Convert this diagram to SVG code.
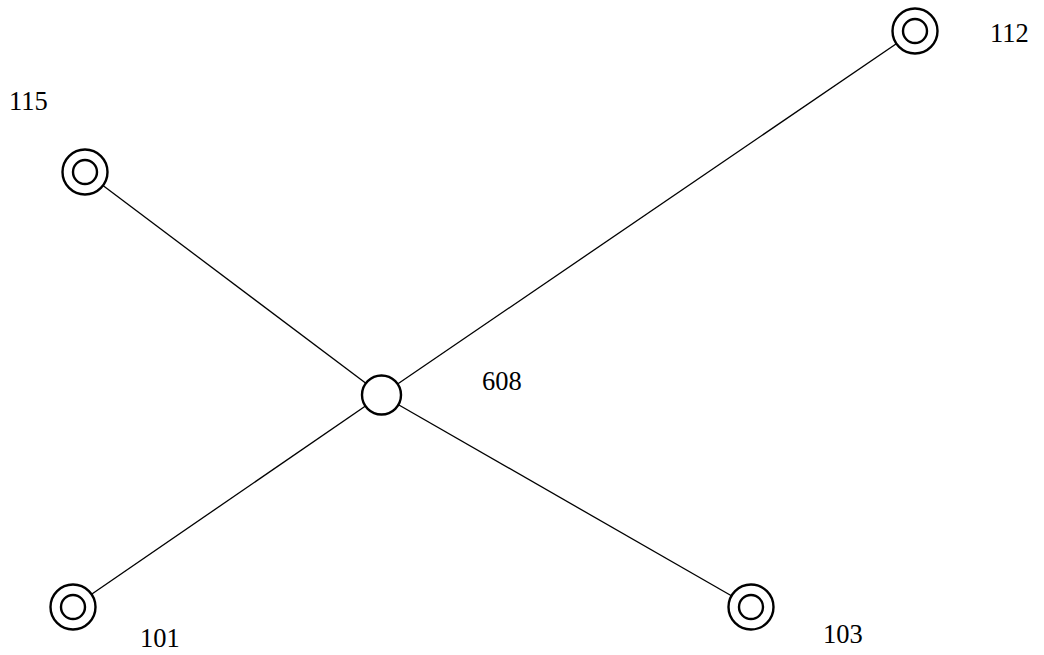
<svg xmlns="http://www.w3.org/2000/svg" width="1044" height="655" viewBox="0 0 1044 655">
<style>
.e{stroke:#000;stroke-width:1.3;fill:none}
.n{stroke:#000;stroke-width:2.4;fill:#fff}
.t{font-family:"Liberation Serif","DejaVu Serif",serif;font-size:26.5px;fill:#000}
</style>
<rect width="1044" height="655" fill="#fff"/>
<g id="edges">
<line class="e" x1="381.5" y1="395" x2="915" y2="31"/>
<line class="e" x1="381.5" y1="395" x2="85" y2="172"/>
<line class="e" x1="381.5" y1="395" x2="73" y2="607"/>
<line class="e" x1="381.5" y1="395" x2="751" y2="607"/>
</g>
<g id="n608"><circle class="n" cx="381.5" cy="395" r="19.5"/><text class="t" x="482" y="390">608</text></g>
<g id="n112"><circle class="n" cx="915" cy="31" r="22.5"/><circle class="n" cx="915" cy="31" r="12"/><text class="t" x="990" y="42">112</text></g>
<g id="n115"><circle class="n" cx="85" cy="172" r="22.5"/><circle class="n" cx="85" cy="172" r="12"/><text class="t" x="9" y="110">115</text></g>
<g id="n101"><circle class="n" cx="73" cy="607" r="22.5"/><circle class="n" cx="73" cy="607" r="12"/><text class="t" x="140" y="647">101</text></g>
<g id="n103"><circle class="n" cx="751" cy="607" r="22.5"/><circle class="n" cx="751" cy="607" r="12"/><text class="t" x="823" y="643">103</text></g>
</svg>
